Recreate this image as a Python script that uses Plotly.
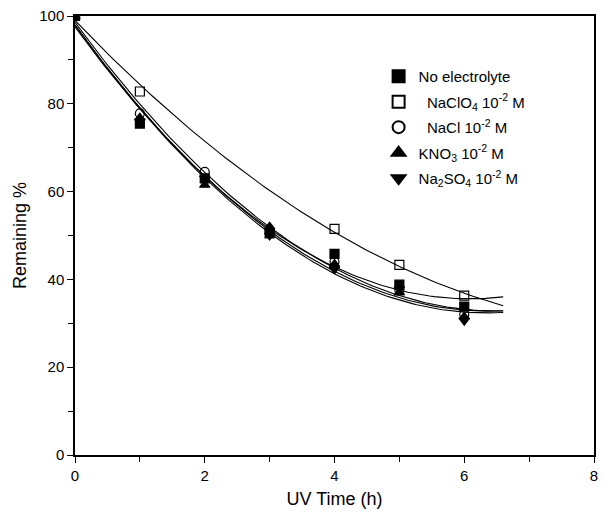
import numpy as np
import plotly.graph_objects as go

time_h = [0, 1, 2, 3, 4, 5, 6]
time_naclo4 = [0, 1, 4, 5, 6]
no_electrolyte = [100, 75.5, 63.0, 50.5, 45.8, 38.8, 33.8]
naclo4 = [100, 82.8, 51.5, 43.3, 36.3]
nacl = [100, 77.8, 64.5, 51.0, 44.0, 37.5, 32.0]
kno3 = [100, 76.8, 61.5, 52.0, 43.5, 37.0, 31.5]
na2so4 = [100, 76.0, 63.0, 50.0, 42.3, 37.8, 30.6]

names = ["No electrolyte", "&nbsp;&nbsp;NaClO<sub>4</sub> 10<sup>-2</sup> M",
         "&nbsp;&nbsp;NaCl 10<sup>-2</sup> M",
         "KNO<sub>3</sub> 10<sup>-2</sup> M", "Na<sub>2</sub>SO<sub>4</sub> 10<sup>-2</sup> M"]
xs_all = [time_h, time_naclo4, time_h, time_h, time_h]
series = [no_electrolyte, naclo4, nacl, kno3, na2so4]
symbols = ["square", "square-open", "circle-open", "triangle-up", "triangle-down"]

fig = go.Figure()
xf = np.linspace(0, 6.6, 100)
for xs, ys in zip(xs_all, series):
    c = np.polyfit(xs, ys, 2)
    fig.add_trace(go.Scatter(x=xf, y=np.polyval(c, xf), mode="lines",
                             line=dict(color="black", width=1.1), showlegend=False, hoverinfo="skip"))
for i, (n, xs, ys, s) in enumerate(zip(names, xs_all, series, symbols)):
    fig.add_trace(go.Scatter(x=xs, y=ys, mode="markers", name=n, legendgroup=str(i),
                             marker=dict(symbol=s, size=9, color="black",
                                         line=dict(color="black", width=1.2))))

fig.update_layout(
    width=605, height=525,
    margin=dict(l=75, r=7, t=14, b=70),
    paper_bgcolor="white", plot_bgcolor="white",
    font=dict(family="Liberation Sans, Arial", size=15, color="black"),
    legend=dict(x=0.585, y=0.9, xanchor="left", yanchor="top",
                bgcolor="rgba(0,0,0,0)", font=dict(size=15), itemsizing="constant",
                tracegroupgap=3),
    xaxis=dict(range=[0, 8], dtick=2, showgrid=False, zeroline=False,
               showline=True, linecolor="black", linewidth=1.5, mirror=True,
               ticks="outside", ticklen=6, tickcolor="black",
               minor=dict(dtick=1, ticks="outside", ticklen=5, tickcolor="black"),
               title=dict(text="UV Time (h)", standoff=10)),
    yaxis=dict(range=[0, 100], dtick=20, showgrid=False, zeroline=False,
               showline=True, linecolor="black", linewidth=1.5, mirror=True,
               ticks="outside", ticklen=6, tickcolor="black",
               minor=dict(dtick=10, ticks="outside", ticklen=5, tickcolor="black"),
               title=dict(text="Remaining %", standoff=8)),
)
fig.write_html("out.html")
